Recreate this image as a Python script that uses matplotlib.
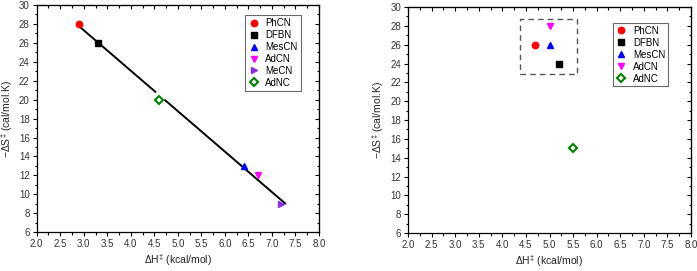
import numpy as np
import matplotlib
matplotlib.use("Agg")
import matplotlib.pyplot as plt
from matplotlib.patches import Rectangle
from matplotlib.ticker import MultipleLocator

plt.rcParams['font.family'] = ['Liberation Sans', 'DejaVu Sans']
plt.rcParams['mathtext.fontset'] = 'custom'
plt.rcParams['mathtext.rm'] = 'Liberation Sans'
plt.rcParams['mathtext.it'] = 'Liberation Sans'

# left panel: nitriles incl. MeCN, with linear fit
left_names = ['PhCN', 'DFBN', 'MesCN', 'AdCN', 'MeCN', 'AdNC']
left_dh = [2.9, 3.3, 6.4, 6.7, 7.2, 4.6]
left_ds = [28.0, 26.0, 13.0, 12.0, 9.0, 20.0]

# right panel
right_names = ['PhCN', 'DFBN', 'MesCN', 'AdCN', 'AdNC']
right_dh = [4.7, 5.2, 5.0, 5.0, 5.5]
right_ds = [26.0, 24.0, 26.0, 28.0, 15.0]

# fit line range (gap around the AdNC marker)
fit_segments = [(2.9, 4.52), (4.73, 7.28)]
# dashed box in right panel (x0, y0, x1, y1)
box = (4.38, 22.9, 5.58, 28.7)

styles = {
    'PhCN': dict(marker='o', color='#ff0000'),
    'DFBN': dict(marker='s', color='#000000'),
    'MesCN': dict(marker='^', color='#0000ff'),
    'AdCN': dict(marker='v', color='#ff00ff'),
    'MeCN': dict(marker='>', color='#8b2be2'),
    'AdNC': dict(marker='D', color='#008000'),
}


def draw_point(ax, name, x, y):
    st = styles[name]
    if name == 'AdNC':
        ax.plot(x, y, linestyle='none', marker=st['marker'], markersize=3.8,
                markerfacecolor='white', markeredgecolor=st['color'],
                markeredgewidth=1.5, label=name, zorder=4)
    else:
        ax.plot(x, y, linestyle='none', marker=st['marker'], markersize=4.6,
                color=st['color'], label=name, zorder=4)


def style_axes(ax):
    ax.set_xlim(2.0, 8.0)
    ax.set_ylim(6, 30)
    ax.xaxis.set_major_locator(MultipleLocator(0.5))
    ax.xaxis.set_minor_locator(MultipleLocator(0.25))
    ax.yaxis.set_major_locator(MultipleLocator(2))
    ax.yaxis.set_minor_locator(MultipleLocator(1))
    ax.set_xticks(np.arange(2.0, 8.01, 0.5))
    ax.set_xticklabels(['%.1f' % v for v in np.arange(2.0, 8.01, 0.5)])
    ax.tick_params(axis='both', which='both', direction='out', labelsize=7,
                   labelcolor='#333333', width=0.8, pad=2)
    ax.tick_params(which='major', length=3)
    ax.tick_params(which='minor', length=1.8)
    for s in ax.spines.values():
        s.set_linewidth(0.9)
    ax.set_xlabel(r'$\Delta$H$^{\ddagger}$ (kcal/mol)', fontsize=7.5, color='#222222', labelpad=2.5)
    ax.set_ylabel(r'$-\Delta$S$^{\ddagger}$ (cal/mol.K)', fontsize=7.5, color='#222222', labelpad=3)
    # mirrored ticks on top and right, pointing inward
    top = ax.secondary_xaxis('top')
    top.set_xticks(np.arange(2.0, 8.01, 0.5))
    top.xaxis.set_minor_locator(MultipleLocator(0.25))
    top.tick_params(which='both', direction='in', labeltop=False, width=0.8)
    top.tick_params(which='major', length=3)
    top.tick_params(which='minor', length=1.8)
    right = ax.secondary_yaxis('right')
    right.set_yticks(np.arange(6, 30.1, 2))
    right.yaxis.set_minor_locator(MultipleLocator(1))
    right.tick_params(which='both', direction='in', labelright=False, width=0.8)
    right.tick_params(which='major', length=3)
    right.tick_params(which='minor', length=1.8)


fig = plt.figure(figsize=(6.97, 2.71), dpi=100)
ax1 = fig.add_axes([0.0527, 0.143, 0.405, 0.8387])
ax2 = fig.add_axes([0.5854, 0.140, 0.406, 0.834])

# left
slope, intercept = np.polyfit(left_dh, left_ds, 1)
for x0, x1 in fit_segments:
    xs = np.array([x0, x1])
    ax1.plot(xs, slope * xs + intercept, color='black', linewidth=1.4, zorder=3)
for n, x, y in zip(left_names, left_dh, left_ds):
    draw_point(ax1, n, x, y)
style_axes(ax1)
leg1 = ax1.legend(loc='upper left', bbox_to_anchor=(0.738, 0.955), fontsize=7,
                  frameon=True, fancybox=False, edgecolor='#444444',
                  handletextpad=0.6, labelspacing=0.2, borderpad=0.3,
                  handlelength=1.2, borderaxespad=0)
leg1.get_frame().set_linewidth(0.8)

# right
for n, x, y in zip(right_names, right_dh, right_ds):
    draw_point(ax2, n, x, y)
ax2.add_patch(Rectangle((box[0], box[1]), box[2] - box[0], box[3] - box[1],
                        fill=False, linestyle=(0, (4, 3)), edgecolor='#555555',
                        linewidth=1.0, zorder=2))
style_axes(ax2)
leg2 = ax2.legend(loc='upper left', bbox_to_anchor=(0.723, 0.93), fontsize=7,
                  frameon=True, fancybox=False, edgecolor='#444444',
                  handletextpad=0.6, labelspacing=0.2, borderpad=0.3,
                  handlelength=1.2, borderaxespad=0)
leg2.get_frame().set_linewidth(0.8)

fig.savefig('out.png', dpi=100)
